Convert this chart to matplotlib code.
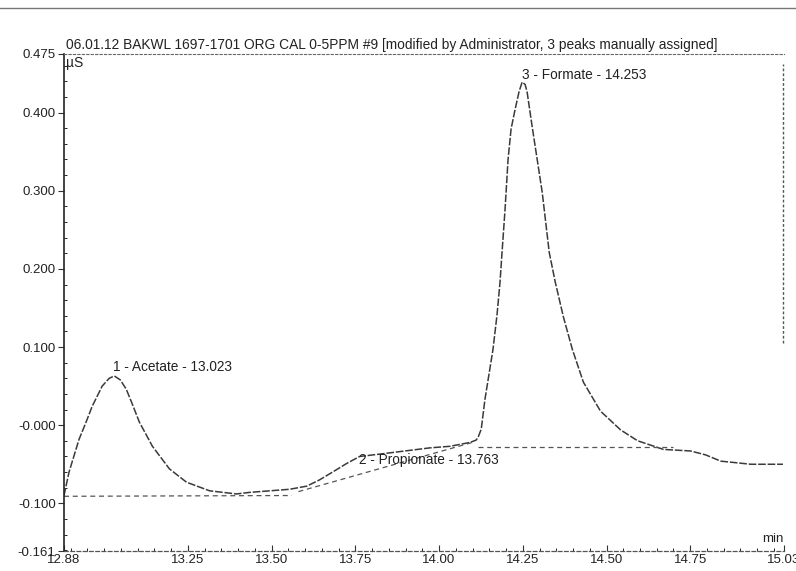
import matplotlib
matplotlib.use("Agg")
import matplotlib.pyplot as plt
from matplotlib.lines import Line2D

plt.rcParams['font.family'] = ['Liberation Sans', 'DejaVu Sans']

# Chromatogram trace (time in min, signal in µS)
time_min = [12.880, 12.895, 12.925, 12.946, 12.964, 12.994, 13.015, 13.030, 13.048,
            13.066, 13.084, 13.105, 13.144, 13.195, 13.246, 13.315, 13.395, 13.434,
            13.494, 13.554, 13.605, 13.643, 13.682, 13.724, 13.763, 13.823, 13.898,
            13.973, 14.033, 14.093, 14.111,
            14.117, 14.126, 14.137, 14.149, 14.161, 14.173, 14.182, 14.188, 14.197,
            14.206, 14.215, 14.227, 14.239, 14.248, 14.257, 14.263, 14.278, 14.293,
            14.308, 14.320, 14.329, 14.347, 14.371, 14.398, 14.431, 14.482, 14.542,
            14.593, 14.670, 14.751, 14.796, 14.841, 14.931, 15.027]
signal_us = [-0.090, -0.060, -0.018, 0.004, 0.024, 0.050, 0.060, 0.063, 0.058,
             0.046, 0.027, 0.004, -0.027, -0.056, -0.073, -0.084, -0.088, -0.086,
             -0.084, -0.082, -0.078, -0.070, -0.060, -0.049, -0.040, -0.037, -0.033,
             -0.029, -0.027, -0.022, -0.019,
             -0.015, -0.005, 0.033, 0.065, 0.097, 0.141, 0.183, 0.221, 0.276,
             0.340, 0.379, 0.404, 0.427, 0.439, 0.436, 0.426, 0.382, 0.340,
             0.298, 0.254, 0.221, 0.183, 0.139, 0.097, 0.055, 0.018, -0.006,
             -0.020, -0.031, -0.033, -0.038, -0.046, -0.050, -0.050]

# Integration baselines
base1_t = [12.880, 13.560]
base1_y = [-0.091, -0.090]
base2_t = [13.580, 14.100]
base2_y = [-0.085, -0.022]
base3_t = [14.117, 14.700]
base3_y = [-0.028, -0.028]

# Peak labels
peak_labels = ["1 - Acetate - 13.023", "2 - Propionate - 13.763", "3 - Formate - 14.253"]
peak_t = [13.023, 13.763, 14.253]
peak_y = [0.063, -0.040, 0.439]

x_ticks = [12.88, 13.25, 13.50, 13.75, 14.00, 14.25, 14.50, 14.75, 15.03]
x_ticklabels = ["12.88", "13.25", "13.50", "13.75", "14.00", "14.25", "14.50", "14.75", "15.03"]
y_ticks = [0.475, 0.400, 0.300, 0.200, 0.100, 0.000, -0.100, -0.161]
y_ticklabels = ["0.475", "0.400", "0.300", "0.200", "0.100", "-0.000", "-0.100", "-0.161"]

title = "06.01.12 BAKWL 1697-1701 ORG CAL 0-5PPM #9 [modified by Administrator, 3 peaks manually assigned]"

fig = plt.figure(figsize=(7.96, 5.71), dpi=100)
ax = fig.add_axes([64/796, 20/571, 720/796, 497/571])

ink = '#3a3a3a'
ax.plot(time_min, signal_us, color=ink, lw=1.1, ls=(0, (5, 1.2)))
for bt, by in [(base1_t, base1_y), (base2_t, base2_y), (base3_t, base3_y)]:
    ax.plot(bt, by, color='#555555', lw=0.9, ls=(0, (4, 3)))

# label placement offsets (layout only)
label_dx = [0.002, -0.002, -0.004]
label_dy = [0.011, -0.005, 0.009]
for lab, t, yv, dx, dy in zip(peak_labels, peak_t, peak_y, label_dx, label_dy):
    ax.text(t + dx, yv + dy, lab, fontsize=9.8, color='#222222', ha='left', va='center')

ax.set_xlim(12.88, 15.03)
ax.set_ylim(-0.161, 0.475)
ax.set_xticks(x_ticks)
ax.set_xticklabels(x_ticklabels)
ax.set_yticks(y_ticks)
ax.set_yticklabels(y_ticklabels)
ax.xaxis.set_minor_locator(matplotlib.ticker.MultipleLocator(0.05))
ax.yaxis.set_minor_locator(matplotlib.ticker.MultipleLocator(0.02))
ax.tick_params(axis='both', labelsize=9.5, colors='#333333', labelcolor='#222222')
ax.tick_params(axis='y', which='major', direction='out', length=4, width=0.8, pad=2)
ax.tick_params(axis='y', which='minor', direction='in', length=2, width=0.6)
ax.tick_params(axis='x', which='major', direction='in', length=4, width=0.8, pad=2)
ax.tick_params(axis='x', which='minor', direction='in', length=2, width=0.6)

ax.spines['left'].set_color('#222222')
ax.spines['left'].set_linewidth(1.2)
ax.spines['bottom'].set_color('#555555')
ax.spines['bottom'].set_linewidth(0.9)
ax.spines['bottom'].set_linestyle((0, (3, 2)))
ax.spines['top'].set_color('#666666')
ax.spines['top'].set_linewidth(0.8)
ax.spines['top'].set_linestyle((0, (2, 2)))
ax.spines['right'].set_visible(False)

# faint dotted right edge (partial)
ax.plot([15.027, 15.027], [0.105, 0.462], color='#555555', lw=1.0, ls=(0, (2, 1.5)), clip_on=False)

ax.text(0.003, 1.004, title, transform=ax.transAxes, fontsize=9.9, color='#222222',
        ha='left', va='bottom')
ax.text(0.003, 0.995, "µS", transform=ax.transAxes, fontsize=9.9, color='#222222',
        ha='left', va='top')
ax.text(0.97, 0.012, "min", transform=ax.transAxes, fontsize=9.5, color='#222222',
        ha='left', va='bottom')

# scan line across the top
fig.add_artist(Line2D([0, 1], [1 - 8/571, 1 - 8/571], transform=fig.transFigure,
                      color='#777777', lw=1.0))

fig.savefig("out.png", dpi=100)
